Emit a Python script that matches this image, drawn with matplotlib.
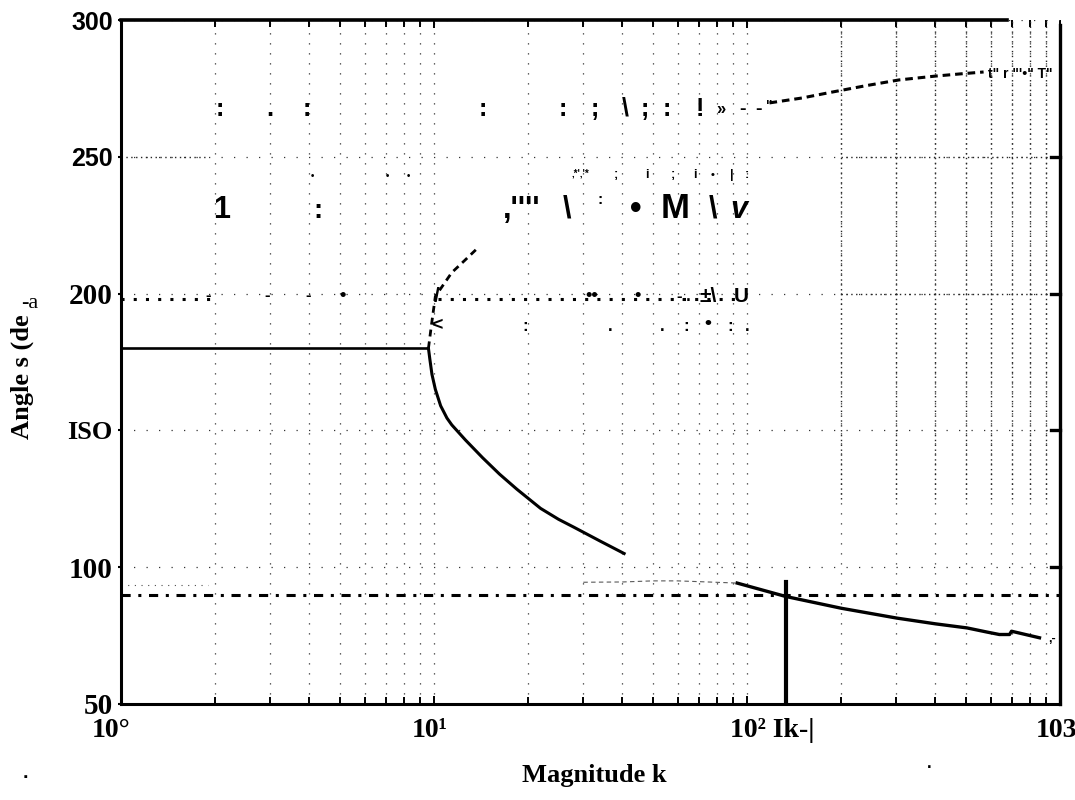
import matplotlib
matplotlib.use("Agg")
import matplotlib.pyplot as plt
import matplotlib.transforms as mtransforms

# ---- root-locus data: gain magnitude k versus angle (degrees) ----
k_real = [1.0, 9.6]
ang_real = [180.0, 180.0]

k_lower = [9.6, 9.7, 9.85, 10.1, 10.5, 11.0, 11.4, 12.6, 14.3, 16.2, 18.4,
           21.9, 25.0, 28.0, 34.0, 40.5]
ang_lower = [180.0, 176.0, 170.5, 165.0, 159.0, 154.5, 152.0, 146.5, 140.0,
             134.0, 128.5, 121.5, 117.5, 114.6, 109.5, 105.0]

k_upper = [9.6, 9.8, 10.1, 11.4, 12.5, 13.6]
ang_upper = [180.0, 188.0, 199.0, 207.7, 212.0, 216.0]

k_right = [93, 133, 200, 301, 400, 505, 584, 640, 690, 700, 860]
ang_right = [94.2, 89.3, 85.0, 81.4, 79.3, 77.8, 76.3, 75.4, 75.4, 76.6, 74.2]

k_right_up = [118, 150, 184, 240, 306, 400, 480, 570]
ang_right_up = [269.7, 271.5, 273.5, 276.0, 278.1, 279.5, 280.3, 281.0]

k_faint = [30, 40, 50, 60, 75, 93]
ang_faint = [94.5, 94.6, 95.0, 95.0, 94.6, 94.2]

k_ref_left = [1.0, 1.93]
k_ref_mid = [10.3, 95.0]
ang_ref = 198.0
ang_ref_low = 93.5

asymptote = 90.0
k_cross = 133.0
ang_cross_top = 94.5

x_ticks = [1, 10, 100, 1000]
x_ticklabels = ["10°", "10¹", "10² Ik-|", "103"]
y_ticks = [50, 100, 150, 200, 250, 300]
y_ticklabels = ["50", "100", "ISO", "200", "250", "300"]

SERIF = "Liberation Serif"
SANS = "Liberation Sans"

W, H = 1075, 800
fig = plt.figure(figsize=(W / 100, H / 100), dpi=100)
L, R, T, B = 121, 1060, 20, 704
ax = fig.add_axes([L / W, 1 - B / H, (R - L) / W, (B - T) / H])
ax.set_xscale("log")
ax.set_xlim(1, 1000)
ax.set_ylim(50, 300)

# sparse dotted grid
ax.grid(True, which="both", axis="x", color="0.2", lw=0.9, ls=(0, (1, 7)))
ax.grid(True, which="major", axis="y", color="0.2", lw=0.9, ls=(0, (1, 9)))
ax.set_axisbelow(True)

# denser grid block in the upper-right decade
for kg in [200, 300, 400, 500, 600, 700, 800, 900]:
    ax.plot([kg, kg], [125, 300], color="0.15", lw=1.0, ls=(0, (1, 2.5)))
for yg in [250, 200]:
    ax.plot([200, 1000], [yg, yg], color="0.15", lw=1.0, ls=(0, (1, 2.5)))
ax.plot([1, 1.9], [250, 250], color="0.15", lw=1.0, ls=(0, (1, 2.5)))

# reference dotted rows
ax.plot(k_ref_left, [ang_ref, ang_ref], color="k", lw=2.2, ls=(0, (1, 3)))
ax.plot(k_ref_mid, [ang_ref, ang_ref], color="k", lw=2.2, ls=(0, (1, 3)))
ax.plot([1, 1.9], [ang_ref_low, ang_ref_low], color="0.3", lw=0.8, ls=(0, (1, 5)))

# asymptote and crossing marker
ax.axhline(asymptote, color="k", lw=2.2, ls=(0, (3, 2.5, 1, 2.5)))
ax.plot([k_cross, k_cross], [50, ang_cross_top], color="k", lw=3.0)

# locus branches
ax.plot(k_real, ang_real, color="k", lw=1.9)
ax.plot(k_lower, ang_lower, color="k", lw=2.2)
ax.plot(k_upper, ang_upper, color="k", lw=2.0, ls=(0, (2.5, 1.8)))
ax.plot(k_right, ang_right, color="k", lw=2.4)
ax.plot(k_right_up, ang_right_up, color="k", lw=2.2, ls=(0, (2.5, 1.6)))
ax.plot(k_faint, ang_faint, color="0.35", lw=0.8, ls=(0, (4, 3)))

# frame: partial top edge, right edge starting just below the top
for s in ax.spines.values():
    s.set_visible(False)
ax.plot([0, 0], [0, 1], transform=ax.transAxes, color="k", lw=2.2, clip_on=False)
ax.plot([0, 1], [0, 0], transform=ax.transAxes, color="k", lw=2.2, clip_on=False)
ax.plot([0, 0.9436], [1, 1], transform=ax.transAxes, color="k", lw=2.6, clip_on=False)
ax.plot([1, 1], [0, 0.9927], transform=ax.transAxes, color="k", lw=2.4, clip_on=False)

# ticks
ax.tick_params(axis="x", which="both", direction="in", top=True, bottom=True,
               width=1.4, color="k")
ax.tick_params(axis="x", which="major", length=6, pad=10)
ax.tick_params(axis="x", which="minor", length=5)
ax.tick_params(axis="y", which="major", direction="out", left=True, right=False,
               length=2, width=1.5, pad=4)
ax.set_xticks(x_ticks, x_ticklabels)
ax.set_yticks(y_ticks, y_ticklabels)
for yv in y_ticks[1:-1]:
    ax.plot([1, 0.99], [yv, yv], transform=ax.get_yaxis_transform(), color="k",
            lw=2.4, clip_on=False)

x_offsets = [-10, -4, 25, -4]
for lbl, dx in zip(ax.get_xticklabels(), x_offsets):
    lbl.set_fontfamily(SERIF)
    lbl.set_fontweight("bold")
    lbl.set_fontsize(20)
    lbl.set_transform(lbl.get_transform() + mtransforms.ScaledTranslation(
        dx / 100, 0, fig.dpi_scale_trans))

for lbl, txt in zip(ax.get_yticklabels(), y_ticklabels):
    lbl.set_fontweight("bold")
    if txt in ("300", "250"):
        lbl.set_fontfamily(SANS)
        lbl.set_fontsize(18)
    elif txt == "ISO":
        lbl.set_fontfamily(SERIF)
        lbl.set_fontsize(19)
    else:
        lbl.set_fontfamily(SERIF)
        lbl.set_fontsize(21)

ax.set_xlabel("Magnitude k", fontfamily=SERIF, fontweight="bold", fontsize=19)
ax.xaxis.set_label_coords((594 - L) / (R - L), (B - 764) / (B - T))
ax.set_ylabel("Angle s (de", fontfamily=SERIF, fontweight="heavy", fontsize=19)
ax.yaxis.set_label_coords((34 - L) / (R - L), (B - 377) / (B - T))
fig.text(30 / W, 1 - 304 / H, "-a", fontfamily=SERIF, fontsize=16,
         ha="center", va="center")

# scattered glyphs printed over the plot area (pixel x, baseline y, text, size, style)
glyphs = [
    (220, 116, ":", 18, "normal"), (270, 116, ".", 18, "normal"),
    (307, 116, ":", 18, "normal"), (483, 116, ":", 18, "normal"),
    (563, 116, ":", 18, "normal"), (595, 116, ";", 18, "normal"),
    (625, 116, "\\", 18, "normal"), (645, 116, ";", 18, "normal"),
    (667, 116, ":", 18, "normal"), (700, 116, "!", 18, "normal"),
    (721, 114, "»", 12, "normal"), (742, 114, "-", 14, "normal"),
    (758, 114, "-", 14, "normal"), (769, 110, "\"", 10, "normal"),
    (1020, 78, "t\" r \"'•\" T\"", 10, "normal"),
    (312, 179, "•", 7, "normal"), (387, 179, "•", 7, "normal"),
    (408, 179, "•", 7, "normal"), (580, 176, ",*'‚'*", 7, "normal"),
    (616, 178, ";", 9, "normal"), (647, 178, "i", 9, "normal"),
    (673, 178, ";", 9, "normal"), (695, 178, "i", 9, "normal"),
    (713, 178, "•", 8, "normal"), (732, 178, "|", 9, "normal"),
    (747, 178, ":", 9, "normal"),
    (222, 218, "1", 22, "normal"), (318, 218, ":", 20, "normal"),
    (522, 218, ",''''", 22, "normal"), (567, 218, "\\", 22, "normal"),
    (600, 204, ":", 11, "normal"), (636, 218, "•", 24, "normal"),
    (675, 218, "M", 25, "normal"), (713, 218, "\\", 22, "normal"),
    (739, 218, "v", 22, "italic"),
    (208, 300, "-", 12, "normal"), (267, 300, "-", 12, "normal"),
    (308, 300, "-", 12, "normal"), (343, 300, "•", 13, "normal"),
    (437, 302, "/", 15, "normal"), (592, 300, "••", 13, "normal"),
    (638, 300, "•", 13, "normal"), (684, 301, "-..", 12, "normal"),
    (708, 302, "±\\", 15, "normal"), (741, 302, "U", 15, "normal"),
    (437, 330, "<", 14, "normal"), (525, 331, ":", 12, "normal"),
    (610, 331, ".", 12, "normal"), (662, 331, ".", 12, "normal"),
    (686, 331, ":", 12, "normal"), (708, 328, "•", 14, "normal"),
    (730, 331, ":", 12, "normal"), (747, 331, ".", 12, "normal"),
    (1052, 642, ",-", 9, "normal"),
    (25, 778, ".", 14, "normal"), (929, 768, ".", 12, "normal"),
]
for gx, gy, gt, gs, gst in glyphs:
    fig.text(gx / W, 1 - gy / H, gt, fontfamily=SANS, fontweight="bold",
             fontsize=gs, fontstyle=gst, ha="center", va="baseline")

fig.savefig("out.png", dpi=100)
